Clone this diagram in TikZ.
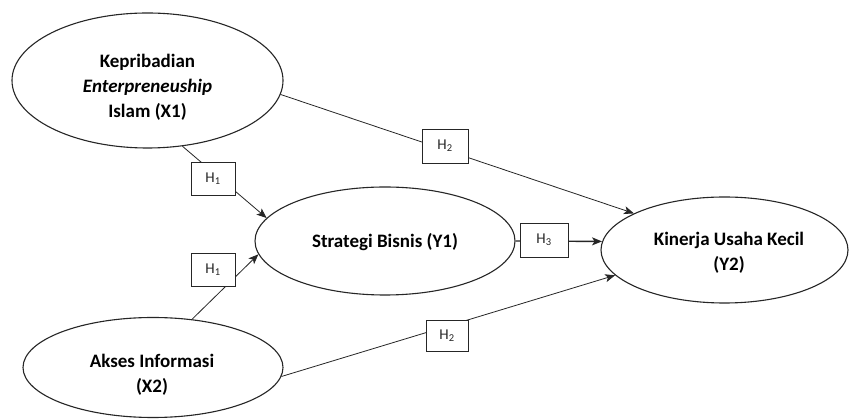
\documentclass[tikz,border=0pt]{standalone}
\usepackage{fontspec}
\setmainfont{Carlito}
\usetikzlibrary{arrows.meta,shapes.geometric}
\definecolor{ink}{HTML}{262626}
\begin{document}
\begin{tikzpicture}[x=1pt,y=1pt,
  var/.style={ellipse,draw=ink,line width=1.1pt,inner sep=0pt},
  vartext/.style={align=center,inner sep=0pt,text=black,
    font=\fontsize{19}{25}\selectfont\bfseries},
  hbox/.style={draw=ink,line width=0.9pt,fill=white,minimum width=44pt,minimum height=33pt,
    inner sep=0pt,text=ink,font=\fontsize{15}{17}\selectfont},
  link/.style={draw=ink,line width=0.8pt,-{Stealth[length=10pt,width=8pt,inset=2.5pt]}}]
\useasboundingbox (0,0) rectangle (849,420);
\fill[white] (0,0) rectangle (849,420);
\node[var,minimum width=271pt,minimum height=135pt] (X1) at (147.5,339.5) {};
\node[var,minimum width=260pt,minimum height=100pt] (X2) at (153,52.5) {};
\node[var,minimum width=260pt,minimum height=108pt] (Y1) at (385,179) {};
\node[var,minimum width=247pt,minimum height=106pt] (Y2) at (724.5,170) {};
\node[vartext] (tX1) at (147.5,333) {Kepribadian\\ \textit{Enterpreneuship}\\ Islam (X1)};
\node[vartext] (tX2) at (152,45) {Akses Informasi\\ (X2)};
\node[vartext] (tY1) at (385,178) {Strategi Bisnis (Y1)};
\node[vartext] (tY2) at (729,167) {Kinerja Usaha Kecil\\ (Y2)};
\draw[link] (X1.-62.9) -- (Y1.169.6);
\draw[link] (X2.51.8) -- (Y1.186.4);
\draw[link] (X1.-6.1) -- (Y2.158.9);
\draw[link] (X2.-4.6) -- (Y2.193.7);
\draw[link,line width=1.4pt] (Y1.-0.5) -- (Y2.176.4);
\node[hbox] (h1a) at (213,241.5) {H\textsubscript{1}};
\node[hbox] (h1b) at (213,150.5) {H\textsubscript{1}};
\node[hbox,minimum width=46pt,minimum height=34pt] (h2a) at (445,274) {H\textsubscript{2}};
\node[hbox,minimum width=48pt,minimum height=34pt] (h3) at (544,180) {H\textsubscript{3}};
\node[hbox,minimum width=42pt,minimum height=31pt] (h2b) at (447,84.5) {H\textsubscript{2}};
\end{tikzpicture}
\end{document}
